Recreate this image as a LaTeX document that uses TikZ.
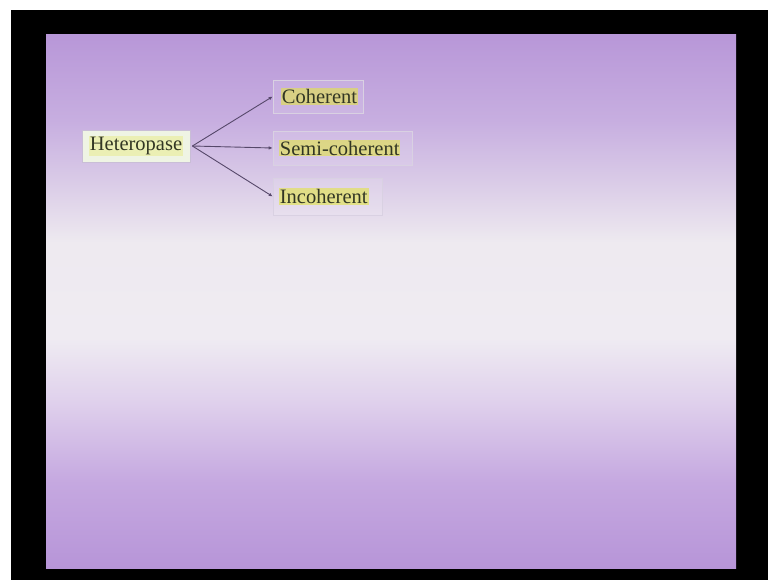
\documentclass[tikz,border=0pt]{standalone}
\usepackage{fontspec}
\setmainfont{Liberation Serif}
\usetikzlibrary{arrows.meta}

\definecolor{inkdark}{HTML}{323624}
\definecolor{linkline}{HTML}{56486A}
\definecolor{hilite}{HTML}{E2E446}
\definecolor{framegray}{HTML}{C9BED6}
\definecolor{rootfill}{HTML}{EFF4E4}

% slide background stops: purple at top and bottom, near white in the middle
% (the path box covers the 25bp..75bp band of the shading)
\definecolor{bgA}{HTML}{B795D8}
\definecolor{bgB}{HTML}{C5A8E0}
\definecolor{bgC}{HTML}{DFD0EC}
\definecolor{bgD}{HTML}{EFEBF2}
\definecolor{bgE}{HTML}{EEEAF0}
\definecolor{bgF}{HTML}{DCCFE8}
\definecolor{bgG}{HTML}{C7AEE0}
\definecolor{bgH}{HTML}{B897D8}
\pgfdeclareverticalshading{slidebg}{100bp}{%
  color(0bp)=(bgA);
  color(25bp)=(bgA);
  color(33bp)=(bgB);
  color(40.5bp)=(bgC);
  color(46.5bp)=(bgD);
  color(55.5bp)=(bgE);
  color(60.5bp)=(bgF);
  color(67bp)=(bgG);
  color(75bp)=(bgH);
  color(100bp)=(bgH)}

\tikzset{
  rootbox/.style={draw=framegray, line width=0.8pt, fill=rootfill,
    minimum width=108pt, minimum height=32pt, inner sep=0pt},
  leafbox/.style={draw=framegray!70, line width=0.6pt, fill=white, fill opacity=0.12,
    inner sep=0pt},
  label/.style={font=\fontsize{20.5}{22}\selectfont, text=inkdark,
    fill=hilite, fill opacity=0.6, text opacity=1, inner xsep=1pt, inner ysep=1pt},
  link/.style={draw=linkline, line width=0.9pt, -{Latex[length=4pt,width=3.5pt]}}
}

\begin{document}
\begin{tikzpicture}[x=1pt,y=-1pt]
  % page and dark frame
  \fill[white] (0,0) rectangle (768,580);
  \fill[black] (11,10) rectangle (768,580);
  \useasboundingbox (0,0) rectangle (768,580);
  % slide
  \shade[shading=slidebg] (46,35) rectangle (736,568);

  % boxes
  \node[rootbox] (hetero) at (136,146) {};
  \node[label, fill opacity=0.3] (heterotext) at (hetero.center) {Heteropase};

  \node[leafbox, minimum width=90pt, minimum height=33pt] (coh) at (318,96.5) {};
  \node[label, anchor=west] (cohtext) at ([xshift=8pt]coh.west) {Coherent};

  \node[leafbox, minimum width=139pt, minimum height=34pt] (semi) at (342.5,148) {};
  \node[label, anchor=west] (semitext) at ([xshift=6pt]semi.west) {Semi-coherent};

  \node[leafbox, minimum width=109pt, minimum height=37pt] (incoh) at (327.5,196.5) {};
  \node[label, anchor=west] (incohtext) at ([xshift=6pt]incoh.west) {Incoherent};

  % connectors
  \coordinate (fork) at ([xshift=2pt]hetero.east);
  \draw[link] (fork) -- (coh.west);
  \draw[link] (fork) -- (semi.west);
  \draw[link] (fork) -- (incoh.west);
\end{tikzpicture}
\end{document}
